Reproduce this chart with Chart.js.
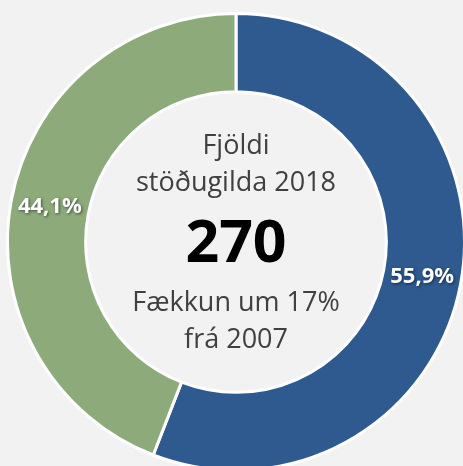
<!DOCTYPE html>
<html>
<head>
<meta charset="utf-8">
<script src="https://cdn.jsdelivr.net/npm/chart.js@4/dist/chart.umd.min.js"></script>
<style>
html,body{margin:0;padding:0;background:#f2f2f2;width:463px;height:466px;overflow:hidden;}
#wrap{position:absolute;left:6px;top:12px;width:460px;height:460px;}
</style>
</head>
<body>
<div id="wrap"><canvas id="c" width="460" height="460"></canvas></div>
<script>
const categories = ['Hópur A', 'Hópur B'];
const values = [55.9, 44.1];
const valueLabels = ['55,9%', '44,1%'];
const colors = ['#2E5A8F', '#8DAA7B'];
const centerLines = ['Fjöldi', 'stöðugilda 2018'];
const centerValue = '270';
const bottomLines = ['Fækkun um 17%', 'frá 2007'];

const textPlugin = {
  id: 'texts',
  afterDatasetsDraw(chart) {
    const ctx = chart.ctx;
    const meta = chart.getDatasetMeta(0);
    const cx = meta.data[0].x, cy = meta.data[0].y;
    ctx.save();
    ctx.textAlign = 'center';
    ctx.textBaseline = 'middle';
    ctx.font = 'bold 22px "Open Sans", sans-serif';
    meta.data.forEach((arc, i) => {
      const p = arc.getCenterPoint();
      ctx.save();
      ctx.shadowColor = 'rgba(0,0,0,0.55)';
      ctx.shadowBlur = 3;
      ctx.shadowOffsetX = 1;
      ctx.shadowOffsetY = 1;
      ctx.fillStyle = '#ffffff';
      ctx.fillText(valueLabels[i], p.x, p.y);
      ctx.restore();
    });
    ctx.fillStyle = '#404040';
    ctx.font = '27px "Open Sans", sans-serif';
    ctx.fillText(centerLines[0], cx, cy - 96);
    ctx.fillText(centerLines[1], cx, cy - 59);
    ctx.fillStyle = '#000000';
    ctx.font = 'bold 59px "Open Sans", sans-serif';
    ctx.fillText(centerValue, cx, cy + 3);
    ctx.fillStyle = '#404040';
    ctx.font = '27px "Open Sans", sans-serif';
    ctx.fillText(bottomLines[0], cx, cy + 61);
    ctx.fillText(bottomLines[1], cx, cy + 98);
    ctx.restore();
  }
};

new Chart(document.getElementById('c'), {
  type: 'doughnut',
  data: {
    labels: categories,
    datasets: [{
      data: values,
      backgroundColor: colors,
      borderColor: '#ffffff',
      borderWidth: 3,
      hoverOffset: 0
    }]
  },
  options: {
    responsive: false,
    animation: false,
    cutout: '65.8%',
    layout: { padding: 0 },
    plugins: { legend: { display: false }, tooltip: { enabled: false } },
    events: []
  },
  plugins: [textPlugin]
});
</script>
</body>
</html>
